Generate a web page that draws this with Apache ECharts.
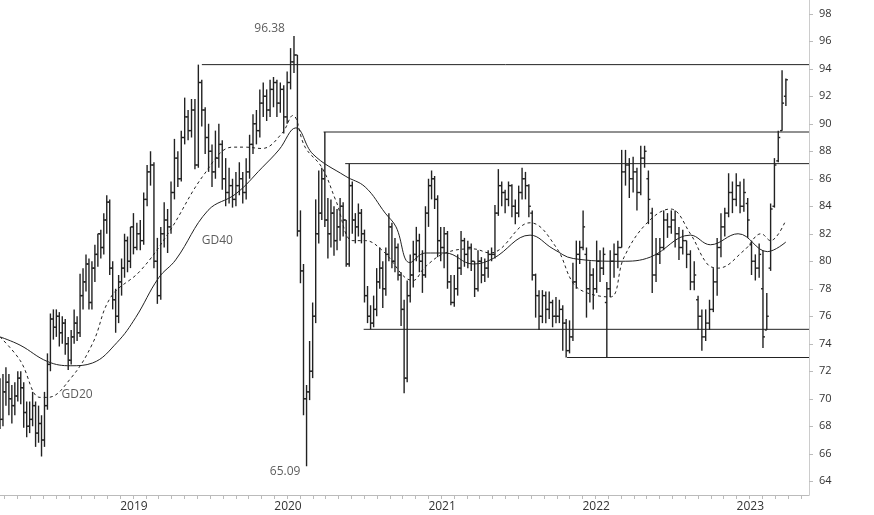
<!DOCTYPE html>
<html>
<head>
<meta charset="UTF-8">
<title>Weekly chart</title>
<script src="https://cdn.jsdelivr.net/npm/echarts@6/dist/echarts.min.js"></script>
<style>body{margin:0;background:#fff}</style>
</head>
<body>
<div id="main" style="width:874px;height:515px;"></div>
<script type="text/javascript">
// weekly bars
var opens = [69.5,68.5,70.5,71.2,70.0,69.5,70.2,71.5,70.8,69.0,
68.0,68.5,69.5,67.5,68.2,67.0,69.5,72.5,75.8,75.2,
76.0,74.8,75.5,74.0,72.8,74.5,75.5,74.8,77.5,78.5,
79.8,77.0,79.5,80.5,82.0,81.0,83.0,84.3,79.5,77.2,
76.0,78.5,79.5,81.5,80.0,82.5,81.0,82.0,81.5,84.5,
86.5,87.0,80.0,77.5,82.0,83.0,82.5,85.0,87.5,86.0,
89.0,90.5,89.5,91.0,87.0,93.0,91.0,89.0,88.0,86.5,
87.5,88.5,86.0,85.0,85.5,84.5,85.5,86.0,85.0,86.5,
88.5,90.0,89.5,91.5,92.0,91.0,92.5,93.0,91.5,92.5,
90.5,93.0,94.5,95.0,82.2,79.3,70.0,70.5,72.0,76.0,
82.0,83.5,86.0,83.0,82.0,83.5,81.5,82.5,84.0,83.0,
79.8,85.5,83.0,82.5,83.5,82.0,77.5,76.0,75.5,76.5,
78.5,79.5,78.0,80.5,82.5,80.0,81.0,79.0,76.5,71.5,
77.5,79.0,80.5,81.5,80.0,79.0,83.5,85.5,86.0,84.5,
81.5,81.0,82.0,78.5,77.0,78.0,79.5,81.5,80.5,81.0,
80.0,78.0,80.0,79.0,79.5,80.5,80.5,83.5,85.5,85.0,
84.5,85.5,84.0,83.5,85.0,86.0,85.5,83.5,79.0,77.5,
76.0,77.5,76.5,77.0,76.0,76.0,76.5,75.5,73.5,74.5,
78.5,80.5,81.0,80.5,78.0,79.0,78.0,80.0,79.5,77.0,
78.0,80.0,80.5,81.0,86.5,87.0,86.0,86.5,85.0,87.5,
86.0,83.5,79.0,80.5,81.0,83.0,82.5,83.0,82.0,81.0,
81.5,80.5,78.5,77.2,76.0,74.5,75.5,76.5,78.5,81.0,
82.5,83.5,85.0,84.5,85.5,84.0,84.2,81.2,80.0,79.5,
78.0,75.0,79.5,84.0,87.3,89.5,92.0];
var highs = [71.5,71.8,72.3,71.8,71.0,71.2,72.0,72.0,71.2,69.8,
69.8,70.5,69.8,69.5,68.8,70.5,73.3,76.2,76.5,76.5,
76.3,76.0,75.8,74.5,75.0,76.5,76.0,79.1,79.5,80.5,
80.2,80.0,81.2,82.0,82.3,83.5,84.8,84.5,80.0,78.0,
79.0,80.2,82.0,81.8,82.5,83.5,82.8,83.0,85.0,87.0,
88.0,87.2,81.7,82.5,84.3,83.8,85.8,88.9,88.0,89.5,
91.9,91.0,91.8,91.8,94.3,93.2,91.2,90.0,88.5,89.5,
90.0,88.8,87.5,86.8,86.0,86.5,87.2,86.5,87.5,89.2,
90.7,91.0,92.5,93.0,92.5,93.2,93.4,93.2,93.0,92.8,
93.8,95.5,96.38,95.0,83.7,79.8,71.0,74.2,77.0,84.5,
86.6,86.8,89.4,84.6,84.5,84.0,83.8,84.6,84.3,83.0,
87.1,85.8,83.5,84.2,83.8,82.3,78.2,76.8,77.5,79.5,
81.0,80.0,81.0,83.5,82.8,81.7,81.3,79.2,77.2,78.6,
80.5,81.5,82.5,82.0,80.8,84.0,86.0,86.6,86.2,84.8,
82.5,82.5,82.2,79.0,79.0,80.5,82.2,81.7,81.5,81.3,
80.0,80.8,80.3,80.2,80.8,81.0,84.1,86.7,85.8,85.2,
85.8,85.6,84.5,85.5,86.8,86.5,85.6,83.7,79.1,77.9,
77.9,77.8,77.8,77.2,77.4,77.2,76.8,75.8,75.7,79.9,
81.5,81.5,83.7,81.0,80.0,79.5,81.5,80.8,81.0,78.5,
80.8,81.3,81.5,88.1,88.1,87.5,87.6,86.8,88.4,88.4,
86.6,83.9,81.7,81.7,83.7,83.5,83.7,83.7,82.5,82.3,
81.5,80.8,80.0,77.5,76.5,76.5,77.2,79.5,81.7,83.5,
83.9,86.4,85.8,86.4,85.8,86.0,84.6,81.5,80.5,81.3,
80.8,77.7,84.2,87.5,89.5,93.9,93.3];
var lows = [67.8,68.0,69.5,68.8,68.2,68.8,69.8,69.6,67.9,67.2,
67.5,68.0,66.5,66.8,65.8,66.5,69.2,72.0,74.3,74.5,
73.8,74.0,73.2,72.1,72.5,74.0,74.2,74.5,76.5,77.8,
76.5,76.5,78.5,79.6,80.2,80.5,82.0,79.0,76.5,74.8,
75.5,77.5,78.8,79.2,79.5,80.5,80.8,80.8,81.2,84.0,
85.5,79.5,76.9,77.2,81.0,80.6,82.0,84.5,85.4,85.8,
88.5,88.8,89.0,86.7,86.8,89.8,87.8,86.5,85.4,86.0,
86.8,85.2,84.0,84.2,83.9,84.0,84.8,84.2,84.5,86.0,
87.8,88.5,89.0,90.5,90.2,90.5,91.2,90.5,90.8,89.3,
90.0,92.5,93.7,81.8,78.4,68.8,65.09,69.9,71.5,75.5,
81.3,83.0,82.5,80.2,81.0,80.4,80.8,81.5,81.8,79.6,
79.6,82.0,81.3,81.8,81.3,77.0,75.5,75.05,75.2,76.0,
78.0,76.6,77.5,80.0,79.5,79.2,78.6,75.3,70.4,71.2,
77.0,78.1,80.0,79.2,77.7,78.8,82.5,84.5,83.8,80.3,
80.0,79.5,78.0,76.8,76.7,77.5,79.0,79.6,79.5,79.3,
77.4,77.8,78.4,78.5,78.8,80.0,80.2,83.3,84.0,83.5,
84.0,83.2,82.7,83.2,84.5,84.5,83.2,78.6,75.9,75.0,
75.5,75.5,75.8,75.2,75.5,75.5,73.5,73.0,73.3,74.2,
78.0,79.8,80.8,75.9,77.0,76.5,77.7,78.5,79.0,73.0,
77.4,78.8,79.5,81.0,85.5,84.6,85.0,83.7,84.8,86.8,
82.7,77.7,78.5,79.8,80.8,81.7,82.0,81.0,80.1,80.5,
79.5,77.9,77.9,75.0,73.5,74.2,75.0,76.3,77.5,80.3,
81.8,83.2,83.5,84.0,83.5,83.6,81.7,79.0,78.6,78.8,
73.7,75.0,79.3,83.9,87.2,89.5,91.3];
var closes = [68.5,70.5,71.2,70.0,69.5,70.2,71.5,70.8,69.0,68.0,
68.5,69.5,67.5,68.2,67.0,69.5,72.5,75.8,75.2,76.0,
74.8,75.5,74.0,72.8,74.5,75.5,74.8,77.5,78.5,79.8,
77.0,79.5,80.5,82.0,81.0,83.0,84.3,79.5,77.2,76.0,
78.5,79.5,81.5,80.0,82.5,81.0,82.0,81.5,84.5,86.5,
87.0,80.0,77.5,82.0,83.0,82.5,85.0,87.5,86.0,89.0,
90.5,89.5,91.0,87.0,93.0,91.0,89.0,88.0,86.5,87.5,
88.5,86.0,85.0,85.5,84.5,85.5,86.0,85.0,86.5,88.5,
90.0,89.5,91.5,92.0,91.0,92.5,93.0,91.5,92.5,90.5,
93.0,94.5,95.0,82.2,79.3,70.0,70.5,72.0,76.0,82.0,
83.5,86.0,83.0,82.0,83.5,81.5,82.5,84.0,83.0,79.8,
85.5,83.0,82.5,83.5,82.0,77.5,76.0,75.5,76.5,78.5,
79.5,78.0,80.5,82.5,80.0,81.0,79.0,76.5,71.5,77.5,
79.0,80.5,81.5,80.0,79.0,83.5,85.5,86.0,84.5,81.5,
81.0,82.0,78.5,77.0,78.0,79.5,81.5,80.5,81.0,80.0,
78.0,80.0,79.0,79.5,80.5,80.5,83.5,85.5,85.0,84.5,
85.5,84.0,83.5,85.0,86.0,85.5,84.0,79.0,77.5,76.0,
77.5,76.5,77.0,76.0,76.0,76.5,75.5,73.5,74.5,78.5,
80.5,81.0,82.5,78.0,79.0,78.0,80.0,79.5,80.5,78.0,
80.0,80.5,81.0,86.5,87.0,86.0,86.5,85.0,87.5,88.0,
84.5,79.0,80.5,81.0,83.0,82.5,83.0,82.0,81.0,81.5,
80.5,78.5,79.0,76.0,74.5,75.5,76.5,78.5,81.0,82.5,
83.5,85.0,84.5,85.5,84.0,85.0,83.0,80.0,79.5,80.5,
74.5,76.0,83.8,87.0,89.0,91.5,93.2];

// bar index -> date (fractional year) anchors
var anchorIdx = [0, 45, 93, 140, 190, 236];
var anchorYear = [2018.22, 2019.086, 2020.15, 2021.08, 2022.18, 2023.32];

// moving averages [year, value]
var gd20 = [[2018.22,74.5],[2018.35,72.8],[2018.48,70.1],[2018.53,70.1],[2018.68,71.5],[2018.82,74.0],[2018.94,77.4],[2019.13,79.3],[2019.31,82.0],[2019.55,86.4],[2019.73,88.3],[2019.81,88.3],[2019.92,88.2],[2020.05,89.3],[2020.12,90.6],[2020.20,88.3],[2020.31,86.8],[2020.40,84.4],[2020.51,81.5],[2020.59,81.5],[2020.70,80.8],[2020.90,78.6],[2020.98,79.6],[2021.11,80.6],[2021.29,80.9],[2021.40,80.6],[2021.66,82.8],[2021.83,81.0],[2021.94,78.4],[2022.03,77.7],[2022.18,77.4],[2022.27,80.3],[2022.42,82.8],[2022.57,83.8],[2022.70,82.0],[2022.81,79.8],[2022.88,79.5],[2023.05,80.8],[2023.16,82.0],[2023.22,81.5],[2023.32,83.0]];
var gd40 = [[2018.22,74.5],[2018.35,73.9],[2018.53,72.7],[2018.68,72.4],[2018.82,72.6],[2018.98,74.1],[2019.10,75.9],[2019.25,78.8],[2019.36,80.1],[2019.57,83.7],[2019.75,84.9],[2019.92,86.8],[2020.03,88.1],[2020.14,89.7],[2020.25,87.8],[2020.46,86.2],[2020.59,85.4],[2020.72,83.5],[2020.79,82.5],[2020.88,79.9],[2020.98,80.6],[2021.11,80.6],[2021.29,79.8],[2021.42,80.2],[2021.66,81.9],[2021.81,80.9],[2021.94,80.2],[2022.25,80.0],[2022.44,80.3],[2022.70,81.9],[2022.83,81.2],[2023.01,82.0],[2023.20,80.7],[2023.32,81.4]];

// horizontal levels: [start year, value]
var levels = [[2019.53,94.3],[2020.32,89.4],[2020.46,87.1],[2020.58,75.05],[2021.90,73.0]];

var notes = [["96.38",2019.97,96.9],["65.09",2020.07,64.7],["GD40",2019.63,81.5],["GD20",2018.72,70.3]];

var xMin = 2018.22, xMax = 2023.47;
var yearLabels = [2019, 2020, 2021, 2022, 2023];
var yTicks = [];
for (var v = 64; v <= 98; v += 2) yTicks.push(v);
var monthTicks = [];
for (var y = 2018; y <= 2023; y++) {
    for (var m = 0; m < 12; m++) {
        var t = y + m / 12;
        if (t >= xMin && t <= xMax) monthTicks.push(t);
    }
}

function barYear(i) {
    for (var k = 0; k < anchorIdx.length - 1; k++) {
        if (i <= anchorIdx[k + 1]) {
            var f = (i - anchorIdx[k]) / (anchorIdx[k + 1] - anchorIdx[k]);
            return anchorYear[k] + f * (anchorYear[k + 1] - anchorYear[k]);
        }
    }
    return anchorYear[anchorYear.length - 1];
}

var ohlc = [];
for (var i = 0; i < closes.length; i++) {
    ohlc.push([barYear(i), opens[i], highs[i], lows[i], closes[i]]);
}

function renderOhlc(params, api) {
    var x = api.value(0);
    var pH = api.coord([x, api.value(2)]);
    var pL = api.coord([x, api.value(3)]);
    var pO = api.coord([x, api.value(1)]);
    var pC = api.coord([x, api.value(4)]);
    var st = {stroke: "#222", lineWidth: 1.4};
    return {
        type: "group",
        children: [
            {type: "line", shape: {x1: pH[0], y1: pH[1], x2: pL[0], y2: pL[1]}, style: st},
            {type: "line", shape: {x1: pO[0] - 2, y1: pO[1], x2: pO[0], y2: pO[1]}, style: st},
            {type: "line", shape: {x1: pC[0], y1: pC[1], x2: pC[0] + 2, y2: pC[1]}, style: st}
        ]
    };
}

var series = [
    {type: "custom", renderItem: renderOhlc, data: ohlc, encode: {x: 0, y: [1, 2, 3, 4]}, z: 3},
    {type: "line", data: gd40, smooth: 0.4, symbol: "none", lineStyle: {color: "#222", width: 1}, z: 2},
    {type: "line", data: gd20, smooth: 0.4, symbol: "none", lineStyle: {color: "#222", width: 1, type: [3, 3]}, z: 2}
];
levels.forEach(function (lv) {
    series.push({type: "line", data: [[lv[0], lv[1]], [xMax, lv[1]]], symbol: "none",
        lineStyle: {color: "#222", width: 1}, z: 2});
});
series.push({
    type: "scatter", symbolSize: 0, z: 4,
    data: notes.map(function (n) { return {value: [n[1], n[2]], name: n[0]}; }),
    label: {show: true, formatter: "{b}", color: "#333", fontSize: 12, fontFamily: "Open Sans"}
});

var myChart = echarts.init(document.getElementById("main"));
myChart.setOption({
    animation: false,
    grid: {left: 0, right: 65, top: 0, bottom: 20},
    xAxis: {
        type: "value", min: xMin, max: xMax,
        splitLine: {show: false},
        axisLine: {lineStyle: {color: "#bbb"}},
        axisTick: {customValues: monthTicks, length: 4, lineStyle: {color: "#bbb"}},
        axisLabel: {customValues: yearLabels, formatter: function (v) { return Math.round(v) + ""; },
            align: "left", margin: 6, color: "#333", fontSize: 12, fontFamily: "Open Sans"}
    },
    yAxis: {
        type: "value", position: "right", min: 63, max: 99,
        splitLine: {show: false},
        axisLine: {show: true, lineStyle: {color: "#ccc"}},
        axisTick: {show: true, customValues: yTicks, length: 4, lineStyle: {color: "#bbb"}},
        axisLabel: {customValues: yTicks, color: "#333", fontSize: 11, margin: 10, fontFamily: "Open Sans"}
    },
    series: series
});
</script>
</body>
</html>
